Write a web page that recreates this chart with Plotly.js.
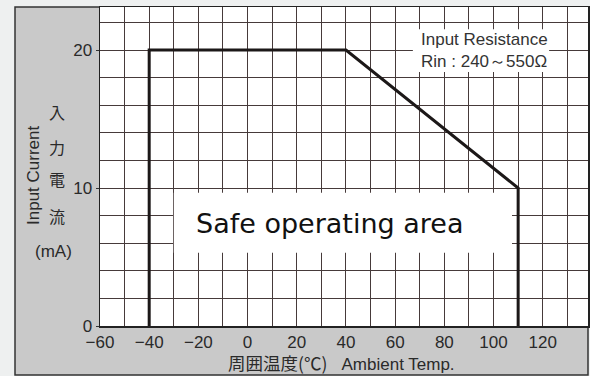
<!DOCTYPE html>
<html>
<head>
<meta charset="utf-8">
<script src="https://cdn.plot.ly/plotly-3.0.1.min.js"></script>
<style>
  html, body { margin: 0; padding: 0; background: #eef0f0; }
  #chart { width: 590px; height: 376px; }
</style>
</head>
<body>
<div id="chart"></div>
<script>
// Derating curve: input current vs ambient temperature
const ambientTemp = [-40, -40, 40, 110, 110];   // °C
const inputCurrent = [0, 20, 20, 10, 0];        // mA

const xTickVals = [-60, -40, -20, 0, 20, 40, 60, 80, 100, 120];
const yTickVals = [0, 10, 20];

const gridColor = '#463a3a';
const textColor = '#2a2a2a';
const sansFont = 'Liberation Sans, Arial, sans-serif';
const cjkFont = 'Noto Sans CJK JP, sans-serif';

// Pixel helpers for the framed panel (plot area spans 100..588 x 7..326)
const L = 100, R = 588, T = 7, B = 326;
const px = p => (p - L) / (R - L);
const py = p => (B - p) / (B - T);

// caption placed by its centre in page pixels
function caption(text, cx, cy, font, extra) {
  return Object.assign({
    xref: 'paper', yref: 'paper', x: px(cx), y: py(cy),
    xanchor: 'center', yanchor: 'middle', showarrow: false,
    text: text, font: font
  }, extra || {});
}

const trace = {
  x: ambientTemp,
  y: inputCurrent,
  mode: 'lines',
  line: { color: '#1c1818', width: 3 },
  hoverinfo: 'skip',
  showlegend: false
};

const sans17 = { family: sansFont, size: 17, color: textColor };
const cjk16 = { family: cjkFont, size: 16, color: textColor };

const layout = {
  width: 590,
  height: 376,
  margin: { l: L, r: 590 - R, t: T, b: 376 - B, pad: 0 },
  paper_bgcolor: '#eef0f0',
  plot_bgcolor: 'rgba(0,0,0,0)',
  font: { family: sansFont, color: textColor, size: 17 },
  xaxis: {
    range: [-60, 138.4],
    tickvals: xTickVals,
    ticktext: xTickVals.map(v => v < 0 ? '\u2212' + Math.abs(v) : String(v)),
    ticks: '',
    showgrid: true,
    gridcolor: gridColor,
    gridwidth: 1,
    minor: { dtick: 10, tick0: 0, showgrid: true, gridcolor: gridColor, gridwidth: 1 },
    showline: true,
    mirror: true,
    linecolor: '#222',
    linewidth: 1.5,
    zeroline: false,
    tickfont: sans17,
    fixedrange: true
  },
  yaxis: {
    range: [0, 23.116],
    tickvals: yTickVals,
    ticks: 'outside',
    ticklen: 3,
    tickcolor: '#333',
    showgrid: true,
    gridcolor: gridColor,
    gridwidth: 1,
    minor: { dtick: 2, tick0: 0, showgrid: true, gridcolor: gridColor, gridwidth: 1 },
    showline: true,
    mirror: true,
    linecolor: '#222',
    linewidth: 1.5,
    zeroline: false,
    tickfont: sans17,
    fixedrange: true
  },
  shapes: [
    // grey frame around the whole chart
    { type: 'rect', xref: 'paper', yref: 'paper', layer: 'below',
      x0: px(15), x1: 1, y0: py(375), y1: 1,
      fillcolor: '#c9c9c9', line: { color: '#333', width: 1.5 } },
    // white plotting field
    { type: 'rect', xref: 'paper', yref: 'paper', layer: 'below',
      x0: 0, x1: 1, y0: 0, y1: 1,
      fillcolor: '#ffffff', line: { width: 0 } },
    // label backgrounds
    { type: 'rect', xref: 'x', yref: 'y', layer: 'above',
      x0: 67.2, x1: 122.6, y0: 18.4, y1: 21.5,
      fillcolor: '#ffffff', line: { width: 0 } },
    { type: 'rect', xref: 'x', yref: 'y', layer: 'above',
      x0: -30, x1: 107.5, y0: 5.3, y1: 9.65,
      fillcolor: '#ffffff', line: { width: 0 } }
  ],
  annotations: [
    { xref: 'x', yref: 'y', x: 69.7, y: 19.93, xanchor: 'left', yanchor: 'middle',
      align: 'left', showarrow: false,
      text: 'Input Resistance<br>Rin : 240～550Ω',
      font: { family: sansFont, size: 17, color: '#333' } },
    { xref: 'x', yref: 'y', x: -21.8, y: 7.45, xanchor: 'left', yanchor: 'middle',
      showarrow: false, text: 'Safe operating area',
      font: { family: 'DejaVu Sans, Verdana, sans-serif', size: 27, color: '#111' } },
    // vertical axis caption
    caption('Input Current', 33, 176, sans17, { textangle: -90 }),
    caption('入', 57, 112, cjk16),
    caption('力', 57, 147, cjk16),
    caption('電', 57, 179, cjk16),
    caption('流', 57, 216, cjk16),
    caption('(mA)', 53, 251, sans17),
    // horizontal axis caption
    caption('<span style="font-family:Noto Sans CJK JP;font-size:17.5px">周囲温度(℃)</span>&nbsp;&nbsp; Ambient Temp.',
            341, 362, sans17)
  ]
};

Plotly.newPlot('chart', [trace], layout, { displayModeBar: false, staticPlot: true });
</script>
</body>
</html>
